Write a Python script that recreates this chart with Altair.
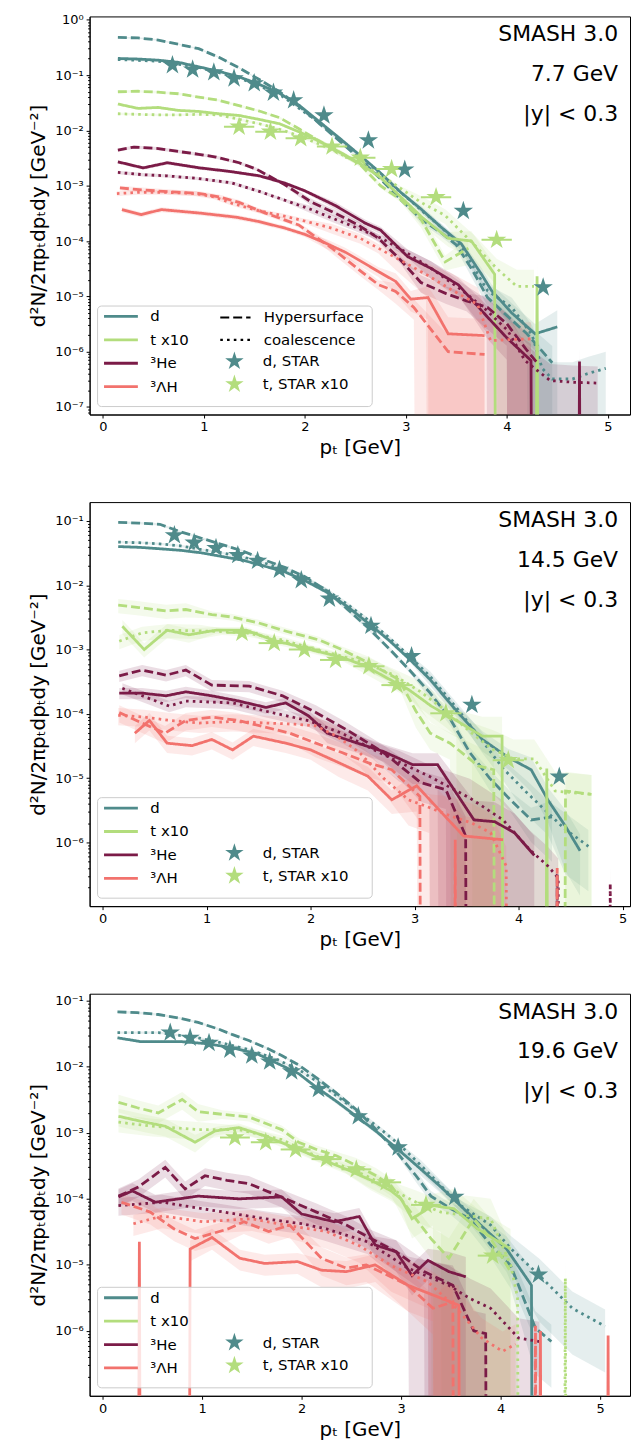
import altair as alt
import pandas as pd

# ---------------- data: (pT [GeV], dN) ; value 0 = curve dropped to zero ----------------
# ---- 7.7 GeV ----
P77_D_SOLID = [(0.15,2.0e-1),(0.35,1.95e-1),(0.55,1.86e-1),(0.75,1.70e-1),(0.95,1.41e-1),(1.15,1.17e-1),(1.35,9.3e-2),(1.55,6.8e-2),(1.75,4.7e-2),(1.95,2.8e-2),(2.15,1.41e-2),(2.35,7.1e-3),(2.55,3.5e-3),(2.75,1.7e-3),(2.95,7.6e-4),(3.15,3.8e-4),(3.35,1.78e-4),(3.55,8.9e-5),(3.75,2.5e-5),(3.85,1.26e-5),(4.05,5.0e-6),(4.28,2.1e-6),(4.5,2.8e-6)]
P77_D_DASH = [(0.15,4.8e-1),(0.35,4.7e-1),(0.55,4.3e-1),(0.75,3.6e-1),(0.95,3.0e-1),(1.15,2.1e-1),(1.35,1.35e-1),(1.55,8.3e-2),(1.75,5.0e-2),(1.95,2.7e-2),(2.15,1.3e-2),(2.35,6.3e-3),(2.55,3.0e-3),(2.75,1.32e-3),(2.95,5.6e-4),(3.15,2.5e-4),(3.35,1.41e-4),(3.5,8.5e-5),(3.65,3.2e-5),(3.81,9.5e-6),(4.0,4.5e-6),(4.2,2.1e-6),(4.45,6.3e-7)]
P77_D_DOT = [(0.15,1.91e-1),(0.55,1.78e-1),(0.95,1.38e-1),(1.35,8.9e-2),(1.75,4.5e-2),(2.15,1.35e-2),(2.55,3.4e-3),(2.95,7.6e-4),(3.35,1.78e-4),(3.55,7.9e-5),(3.81,1.26e-5),(4.05,6.3e-6),(4.25,2.0e-6),(4.35,5.0e-7),(4.45,3.2e-7),(4.65,3.2e-7),(4.8,4.0e-7),(4.98,5.0e-7)]
P77_T_SOLID = [(0.15,3.0e-2),(0.35,2.5e-2),(0.55,2.6e-2),(0.75,2.3e-2),(0.95,2.2e-2),(1.15,2.0e-2),(1.35,1.86e-2),(1.55,1.58e-2),(1.75,1.32e-2),(1.95,9.3e-3),(2.15,6.3e-3),(2.35,4.0e-3),(2.55,2.5e-3),(2.75,1.41e-3),(2.95,6.3e-4),(3.15,2.8e-4),(3.42,1.12e-4),(3.65,1.0e-4),(3.88,2.5e-5),(4.08,0),(4.3,2.3e-5),(4.5,0)]
P77_T_DASH = [(0.15,5.0e-2),(0.35,5.1e-2),(0.55,4.9e-2),(0.75,4.6e-2),(0.95,4.0e-2),(1.15,3.5e-2),(1.35,2.8e-2),(1.55,2.24e-2),(1.75,1.7e-2),(1.95,1.05e-2),(2.15,6.3e-3),(2.35,4.0e-3),(2.55,2.4e-3),(2.75,1.0e-3),(2.95,5.6e-4),(3.15,2.5e-4),(3.39,4.2e-5),(3.62,7.4e-5)]
P77_T_DOT = [(0.15,2.0e-2),(0.35,1.95e-2),(0.55,1.91e-2),(0.75,1.91e-2),(0.95,1.95e-2),(1.15,1.91e-2),(1.35,1.58e-2),(1.55,1.32e-2),(1.75,1.05e-2),(1.95,7.9e-3),(2.15,5.6e-3),(2.35,3.8e-3),(2.55,2.5e-3),(2.75,1.58e-3),(2.95,8.9e-4),(3.15,5.0e-4),(3.39,2.9e-4),(3.68,8.5e-5),(3.9,3.2e-5),(4.1,1.51e-5),(4.27,1.51e-5)]
P77_HE_SOLID = [(0.15,2.7e-3),(0.4,2.1e-3),(0.64,2.6e-3),(0.96,2.1e-3),(1.25,1.82e-3),(1.55,1.51e-3),(1.8,1.12e-3),(2.0,8.1e-4),(2.3,4.4e-4),(2.6,2.1e-4),(2.75,1.58e-4),(3.02,5.2e-5),(3.25,3.2e-5),(3.52,1.62e-5),(3.81,4.2e-6),(4.0,1.78e-6),(4.24,6.9e-7),(4.44,0),(4.52,0),(4.72,6.6e-7),(4.92,0)]
P77_HE_DASH = [(0.15,4.4e-3),(0.31,5.0e-3),(0.55,4.7e-3),(0.73,4.2e-3),(0.95,3.7e-3),(1.12,3.3e-3),(1.35,2.6e-3),(1.52,2.0e-3),(1.8,1.05e-3),(2.07,5.0e-4),(2.3,3.2e-4),(2.53,1.95e-4),(2.73,1.12e-4),(2.95,4.5e-5),(3.15,1.78e-5),(3.4,1.12e-5),(3.6,8.3e-6),(3.81,6.3e-6),(4.0,3.2e-6),(4.2,1.05e-6),(4.3,6.3e-7)]
P77_HE_DOT = [(0.15,1.74e-3),(0.4,1.58e-3),(0.63,1.51e-3),(0.95,1.35e-3),(1.28,1.12e-3),(1.55,7.9e-4),(1.81,5.4e-4),(2.05,3.8e-4),(2.27,2.6e-4),(2.5,1.78e-4),(2.76,1.12e-4),(3.0,6.3e-5),(3.25,3.2e-5),(3.55,1.32e-5),(3.8,5.6e-6),(4.01,2.4e-6),(4.18,6.9e-7),(4.3,4.6e-7),(4.43,3.0e-7),(4.65,2.8e-7),(4.9,2.7e-7)]
P77_LH_SOLID = [(0.19,3.7e-4),(0.38,3.0e-4),(0.58,3.7e-4),(0.96,3.2e-4),(1.32,2.7e-4),(1.55,2.24e-4),(1.81,1.7e-4),(2.0,1.32e-4),(2.21,9.1e-5),(2.4,6.3e-5),(2.53,4.6e-5),(2.73,2.8e-5),(2.9,1.86e-5),(3.05,8.9e-6),(3.22,9.5e-6),(3.42,2.1e-6),(3.78,1.95e-6)]
P77_LH_DASH = [(0.17,9.1e-4),(0.36,8.5e-4),(0.6,7.9e-4),(0.96,7.2e-4),(1.15,6.3e-4),(1.35,5.0e-4),(1.61,3.2e-4),(1.94,1.95e-4),(2.27,7.4e-5),(2.56,2.8e-5),(2.73,1.62e-5),(2.9,1.23e-5),(3.08,6.3e-6),(3.42,1.0e-6),(3.78,8.9e-7)]
P77_LH_DOT = [(0.14,7.2e-4),(0.35,7.6e-4),(0.63,7.6e-4),(0.92,7.2e-4),(1.1,6.3e-4),(1.28,4.8e-4),(1.55,3.5e-4),(1.77,2.9e-4),(2.0,2.3e-4),(2.27,1.7e-4),(2.55,1.12e-4),(2.73,7.4e-5),(2.9,5.0e-5),(3.2,2.5e-5),(3.45,1.32e-5),(3.71,7.2e-6),(3.84,1.58e-6),(4.05,1.66e-6),(4.24,1.7e-6)]
STAR77_D = [(0.69,0.151),(0.89,0.126),(1.10,0.112),(1.30,0.087),(1.50,0.071),(1.69,0.048),(1.89,0.035),(2.19,0.0186),(2.63,6.6e-3),(2.99,1.95e-3),(3.57,3.5e-4),(4.36,1.45e-5)]
STAR77_T = [(1.35,1.17e-2,0.15),(1.66,9.5e-3,0.15),(1.96,7.2e-3,0.15),(2.27,5.1e-3,0.15),(2.55,3.2e-3,0.15),(2.86,2.0e-3,0.15),(3.30,6.2e-4,0.15),(3.90,1.05e-4,0.15)]
# relative band half-width, valid up to the given pT
ERR77_D = [(2.0,0.03),(3.0,0.06),(3.6,0.15),(4.0,0.3),(4.3,0.5),(9,1.0)]
ERR77_T = [(2.0,0.05),(3.0,0.1),(3.5,0.3),(3.9,0.5),(9,1.0)]
ERR77_HE = [(2.0,0.07),(3.0,0.15),(3.6,0.35),(4.0,0.6),(9,1.0)]
ERR77_LH = [(2.0,0.1),(2.8,0.2),(3.1,0.4),(3.3,0.6),(9,1.0)]

# ---- 14.5 GeV ----
P145_D_SOLID = [(0.15,4.0e-2),(0.35,3.9e-2),(0.55,3.7e-2),(0.75,3.5e-2),(0.95,3.2e-2),(1.15,2.8e-2),(1.35,2.45e-2),(1.55,2.0e-2),(1.75,1.62e-2),(1.95,1.17e-2),(2.15,7.9e-3),(2.35,4.7e-3),(2.55,2.6e-3),(2.75,1.41e-3),(2.95,7.1e-4),(3.15,3.4e-4),(3.4,1.12e-4),(3.65,4.0e-5),(3.9,2.1e-5),(4.12,1.35e-5),(4.28,4.6e-6),(4.45,1.78e-6),(4.59,7.4e-7)]
P145_D_DASH = [(0.15,9.5e-2),(0.35,9.3e-2),(0.55,8.9e-2),(0.75,6.8e-2),(0.95,5.4e-2),(1.15,4.3e-2),(1.35,3.4e-2),(1.55,2.5e-2),(1.75,1.9e-2),(1.95,1.35e-2),(2.15,8.3e-3),(2.35,4.3e-3),(2.55,2.2e-3),(2.75,1.05e-3),(2.95,4.8e-4),(3.15,2.1e-4),(3.35,7.9e-5),(3.53,2.5e-5),(3.72,1.0e-5),(3.92,4.6e-6),(4.12,2.24e-6),(4.32,2.5e-6)]
P145_D_DOT = [(0.15,4.7e-2),(0.35,4.6e-2),(0.55,4.4e-2),(0.75,4.1e-2),(0.95,3.6e-2),(1.15,3.2e-2),(1.35,2.75e-2),(1.55,2.24e-2),(1.75,1.74e-2),(1.95,1.26e-2),(2.15,8.5e-3),(2.35,5.1e-3),(2.55,2.9e-3),(2.75,1.55e-3),(2.95,7.9e-4),(3.15,3.8e-4),(3.4,1.26e-4),(3.65,3.8e-5),(3.85,1.41e-5),(4.08,5.9e-6),(4.28,2.9e-6),(4.45,1.58e-6),(4.67,8.7e-7)]
P145_T_SOLID = [(0.19,2.3e-3),(0.4,1.0e-3),(0.62,2.0e-3),(0.83,1.7e-3),(1.09,2.0e-3),(1.38,2.0e-3),(1.67,1.35e-3),(1.89,1.12e-3),(2.05,9.5e-4),(2.3,7.6e-4),(2.53,5.5e-4),(2.75,3.5e-4),(2.94,2.4e-4),(3.16,1.32e-4),(3.4,7.9e-5),(3.65,4.5e-5),(3.84,4.5e-5),(4.04,0),(4.1,0),(4.27,1.41e-5),(4.47,0)]
P145_T_DASH = [(0.15,4.9e-3),(0.35,4.5e-3),(0.61,4.0e-3),(0.8,4.2e-3),(1.05,3.5e-3),(1.25,3.2e-3),(1.5,2.6e-3),(1.73,2.0e-3),(2.08,1.41e-3),(2.3,1.0e-3),(2.55,6.3e-4),(2.85,3.4e-4),(3.01,1.12e-4),(3.15,5.0e-5),(3.34,3.5e-5),(3.61,1.55e-5),(3.76,1.35e-5),(3.96,0),(4.25,0),(4.45,6.3e-6),(4.7,5.6e-6)]
P145_T_DOT = [(0.16,1.35e-3),(0.38,1.82e-3),(0.64,2.0e-3),(0.93,1.95e-3),(1.15,1.91e-3),(1.38,1.82e-3),(1.73,1.41e-3),(2.05,1.0e-3),(2.3,7.9e-4),(2.55,6.0e-4),(2.8,4.0e-4),(3.05,2.24e-4),(3.3,1.12e-4),(3.55,5.0e-5),(3.75,2.8e-5),(3.95,2.0e-5),(4.15,2.0e-5),(4.35,6.3e-6),(4.7,5.6e-6)]
P145_HE_SOLID = [(0.16,2.1e-4),(0.38,2.1e-4),(0.61,1.91e-4),(0.8,2.2e-4),(1.05,1.91e-4),(1.31,1.58e-4),(1.57,1.26e-4),(1.76,1.48e-4),(1.98,9.3e-5),(2.16,5.0e-5),(2.45,3.5e-5),(2.7,2.6e-5),(2.98,1.62e-5),(3.22,1.62e-5),(3.57,2.24e-6),(3.77,2.1e-6),(3.96,1.41e-6),(4.15,6.3e-7)]
P145_HE_DASH = [(0.16,3.9e-4),(0.38,4.8e-4),(0.61,4.0e-4),(0.8,4.8e-4),(1.05,2.8e-4),(1.41,2.7e-4),(1.73,1.91e-4),(2.05,1.05e-4),(2.35,5.6e-5),(2.7,2.5e-5),(3.06,8.5e-6),(3.3,6.6e-6),(3.49,1.26e-6),(3.69,0),(4.17,0),(4.37,3.2e-7),(4.57,0)]
P145_HE_DOT = [(0.19,2.5e-4),(0.38,1.91e-4),(0.64,1.32e-4),(0.8,1.58e-4),(1.25,1.48e-4),(1.57,1.1e-4),(1.98,7.8e-5),(2.3,5.0e-5),(2.6,2.8e-5),(2.85,1.78e-5),(3.14,1.07e-5),(3.53,4.9e-6),(3.85,2.24e-6),(4.1,7.9e-7),(4.28,4.3e-7),(4.38,2.8e-7),(4.58,0),(4.68,0),(4.88,2.3e-7),(5.05,0)]
P145_LH_SOLID = [(0.31,5.0e-5),(0.45,7.9e-5),(0.62,3.5e-5),(0.86,3.2e-5),(1.05,4.0e-5),(1.25,2.75e-5),(1.45,4.5e-5),(1.76,3.5e-5),(2.0,2.75e-5),(2.27,1.74e-5),(2.55,1.07e-5),(2.78,4.6e-6),(3.02,7.6e-6),(3.26,2.9e-6),(3.47,1.26e-6),(3.85,1.1e-6)]
P145_LH_DASH = [(0.16,1.05e-4),(0.38,7.2e-5),(0.6,5.0e-5),(0.8,7.9e-5),(1.05,8.9e-5),(1.3,7.9e-5),(1.55,6.3e-5),(1.8,5.0e-5),(2.05,3.5e-5),(2.3,2.5e-5),(2.55,1.74e-5),(2.78,1.35e-5),(3.05,5.2e-6),(3.22,0),(3.39,1.1e-6),(3.55,0),(4.17,0),(4.37,4.0e-7),(4.55,0)]
P145_LH_DOT = [(0.15,9.5e-5),(0.4,8.9e-5),(0.65,7.9e-5),(0.93,7.2e-5),(1.25,7.6e-5),(1.57,7.2e-5),(1.85,6.9e-5),(2.05,6.5e-5),(2.25,4.5e-5),(2.47,2.5e-5),(2.7,1.0e-5),(2.94,4.6e-6),(3.14,3.5e-6),(3.34,2.6e-6),(3.55,2.0e-6),(3.73,1.41e-6),(3.88,4.3e-7),(4.08,0)]
STAR145_D = [(0.69,6.0e-2),(0.88,4.6e-2),(1.09,3.8e-2),(1.30,2.95e-2),(1.49,2.4e-2),(1.70,1.74e-2),(1.91,1.2e-2),(2.18,6.2e-3),(2.58,2.34e-3),(2.97,7.9e-4),(3.55,1.38e-4),(4.39,1.05e-5)]
STAR145_T = [(1.34,1.82e-3,0.15),(1.65,1.26e-3,0.15),(1.94,1.0e-3,0.15),(2.24,6.9e-4,0.15),(2.56,5.5e-4,0.15),(2.83,2.8e-4,0.15),(3.3,1.02e-4,0.15),(3.9,1.9e-5,0.15)]
ERR145_D = [(2.0,0.04),(3.0,0.08),(3.6,0.2),(4.0,0.35),(4.3,0.55),(9,0.8)]
ERR145_T = [(1.0,0.25),(2.5,0.12),(3.0,0.25),(3.6,0.45),(9,1.0)]
ERR145_HE = [(2.0,0.2),(2.8,0.3),(3.4,0.5),(9,1.0)]
ERR145_LH = [(2.0,0.3),(2.8,0.4),(3.2,0.6),(9,1.0)]

# ---- 19.6 GeV ----
P196_D_SOLID = [(0.15,2.75e-2),(0.39,2.4e-2),(0.8,2.4e-2),(1.05,2.24e-2),(1.3,1.95e-2),(1.55,1.58e-2),(1.8,1.05e-2),(1.97,7.9e-3),(2.14,5.0e-3),(2.35,3.0e-3),(2.55,1.78e-3),(2.75,1.05e-3),(2.97,5.6e-4),(3.2,2.8e-4),(3.4,1.51e-4),(3.56,8.9e-5),(3.8,4.0e-5),(4.06,1.74e-5),(4.31,4.9e-6),(4.5,0)]
P196_D_DASH = [(0.15,6.8e-2),(0.35,6.6e-2),(0.56,6.2e-2),(0.76,5.5e-2),(0.96,4.7e-2),(1.15,3.8e-2),(1.3,3.1e-2),(1.47,2.5e-2),(1.64,1.95e-2),(1.8,1.48e-2),(1.97,1.07e-2),(2.15,6.8e-3),(2.35,4.0e-3),(2.55,2.24e-3),(2.75,1.12e-3),(2.97,4.8e-4),(3.15,2.24e-4),(3.3,1.1e-4),(3.5,7.1e-5),(3.69,5.0e-5),(3.9,2.0e-5),(4.1,9.8e-6),(4.35,1.1e-6),(4.51,6.9e-7)]
P196_D_DOT = [(0.15,3.3e-2),(0.56,3.3e-2),(0.96,2.75e-2),(1.2,2.3e-2),(1.47,1.82e-2),(1.72,1.35e-2),(1.97,9.1e-3),(2.2,5.4e-3),(2.4,3.2e-3),(2.6,1.91e-3),(2.8,1.12e-3),(3.0,6.3e-4),(3.2,3.2e-4),(3.4,1.58e-4),(3.6,7.9e-5),(3.9,4.0e-5),(4.1,1.78e-5),(4.39,6.9e-6),(4.72,2.2e-6),(5.05,1.17e-6)]
P196_T_SOLID = [(0.16,1.78e-3),(0.4,1.48e-3),(0.63,1.26e-3),(0.93,7.2e-4),(1.13,1.07e-3),(1.37,1.2e-3),(1.64,8.9e-4),(1.97,5.6e-4),(2.2,4.0e-4),(2.45,2.8e-4),(2.7,1.91e-4),(2.9,1.32e-4),(3.0,1.0e-4),(3.11,5.0e-5),(3.32,7.9e-5),(3.53,7.1e-5),(3.77,3.5e-5),(4.1,1.74e-5)]
P196_T_DASH = [(0.16,2.9e-3),(0.35,2.4e-3),(0.56,2.0e-3),(0.8,3.2e-3),(0.96,2.1e-3),(1.2,1.91e-3),(1.47,1.74e-3),(1.8,1.12e-3),(1.97,7.2e-4),(2.15,5.6e-4),(2.35,4.5e-4),(2.55,3.2e-4),(2.75,2.24e-4),(2.9,1.58e-4),(3.07,7.1e-5),(3.3,2.5e-5),(3.48,1.26e-5),(3.73,5.0e-5),(3.9,2.5e-5),(4.1,7.9e-6)]
P196_T_DOT = [(0.16,1.45e-3),(0.5,1.26e-3),(0.96,1.12e-3),(1.37,1.12e-3),(1.8,7.9e-4),(2.14,4.5e-4),(2.4,3.2e-4),(2.65,2.24e-4),(2.9,1.41e-4),(3.15,8.9e-5),(3.4,6.3e-5),(3.65,5.6e-5),(3.9,5.0e-5),(4.1,1.0e-5),(4.17,3.2e-6),(4.37,0),(4.45,0),(4.65,6.3e-6),(4.85,0)]
P196_HE_SOLID = [(0.16,1.07e-4),(0.3,1.32e-4),(0.53,8.9e-5),(0.96,1.1e-4),(1.37,1.0e-4),(1.8,1.07e-4),(2.0,5.9e-5),(2.33,4.5e-5),(2.58,5.4e-5),(2.74,2.0e-5),(2.95,1.58e-5),(3.11,6.9e-6),(3.27,1.17e-5),(3.48,7.9e-6),(3.65,6.6e-6)]
P196_HE_DASH = [(0.16,1.1e-4),(0.36,1.51e-4),(0.63,3.0e-4),(0.83,1.41e-4),(1.03,2.24e-4),(1.25,1.91e-4),(1.47,1.7e-4),(1.84,1.0e-4),(2.15,6.3e-5),(2.45,4.0e-5),(2.7,2.5e-5),(2.95,1.58e-5),(3.23,7.9e-6),(3.52,4.9e-6),(3.73,1.0e-6),(3.85,9.1e-7),(4.05,0)]
P196_HE_DOT = [(0.16,7.9e-5),(0.6,8.9e-5),(1.0,7.1e-5),(1.22,6.3e-5),(1.63,5.0e-5),(2.0,4.2e-5),(2.25,3.5e-5),(2.66,2.24e-5),(3.07,8.9e-6),(3.48,4.9e-6),(3.69,3.1e-6),(3.9,2.2e-6),(4.18,7.8e-7),(4.39,6.9e-7)]
P196_LH_SOLID = [(0.17,0),(0.37,2.24e-5),(0.57,0),(0.7,0),(0.88,1.74e-5),(1.1,2.6e-5),(1.38,1.26e-5),(1.63,1.05e-5),(1.96,1.12e-5),(2.2,8.3e-6),(2.45,7.9e-6),(2.74,1.0e-5),(3.07,4.9e-6),(3.32,3.5e-6),(3.58,2.45e-6),(3.78,0),(4.2,0),(4.4,1.0e-6),(4.6,0),(4.9,0),(5.08,8.5e-7),(5.25,0)]
P196_LH_DASH = [(0.19,8.9e-5),(0.48,6.3e-5),(0.72,3.5e-5),(0.93,2.5e-5),(1.26,3.5e-5),(1.42,4.5e-5),(1.67,3.2e-5),(1.88,4.0e-5),(2.2,1.26e-5),(2.45,8.9e-6),(2.65,1.0e-5),(3.07,4.9e-6),(3.32,2.2e-6),(3.52,2.75e-6),(3.72,0),(4.15,0),(4.35,1.2e-6),(4.55,0)]
P196_LH_DOT = [(0.31,4.2e-5),(0.6,5.5e-5),(1.01,4.5e-5),(1.5,5.0e-5),(1.84,4.0e-5),(2.25,3.2e-5),(2.58,1.95e-5),(2.9,9.8e-6),(3.27,5.5e-6),(3.56,2.2e-6),(3.81,7.8e-7),(4.02,4.9e-7),(4.15,6.3e-7)]
STAR196_D = [(0.68,3.3e-2),(0.88,2.75e-2),(1.07,2.3e-2),(1.28,1.82e-2),(1.50,1.48e-2),(1.68,1.2e-2),(1.90,8.5e-3),(2.17,4.6e-3),(2.57,1.78e-3),(2.97,6.0e-4),(3.54,1.07e-4),(4.38,7.1e-6)]
STAR196_T = [(1.33,8.5e-4,0.15),(1.64,7.2e-4,0.15),(1.94,5.6e-4,0.15),(2.25,4.0e-4,0.15),(2.55,2.8e-4,0.15),(2.85,1.78e-4,0.15),(3.25,8.1e-5,0.15),(3.92,1.38e-5,0.15)]
ERR196_D = [(2.0,0.04),(3.0,0.08),(3.6,0.2),(4.0,0.35),(4.3,0.55),(9,0.8)]
ERR196_T = [(1.0,0.3),(2.5,0.15),(3.0,0.3),(3.4,0.5),(9,1.0)]
ERR196_HE = [(2.0,0.3),(2.8,0.35),(3.4,0.5),(9,1.0)]
ERR196_LH = [(2.0,0.35),(2.8,0.45),(3.4,0.6),(9,1.0)]

# ---------------- labels & style ----------------
SPECIES = ["d", "t x10", "³He", "³ΛH"]
COLORS = ["#4f8b8b", "#b3dd7d", "#7b1b47", "#f2726d"]
STYLES = ["solid", "Hypersurface", "coalescence"]
DASHES = [[1, 0], [9, 4], [2.6, 4.2]]
STAR_LABELS = ["d, STAR", "t, STAR x10"]
ENERGIES = ["7.7 GeV", "14.5 GeV", "19.6 GeV"]
STAR_PATH = ("M0,-1L0.2245,-0.309L0.9511,-0.309L0.3633,0.118L0.5878,0.809L0,0.382"
             "L-0.5878,0.809L-0.3633,0.118L-0.9511,-0.309L-0.2245,-0.309Z")
HANDLE_PATH = "M-1.7,0L1.7,0"
FONT = "DejaVu Sans"
TINY = 1e-100
W = 543

LOGV = "log(datum.value)/LN10"
DEC = f"abs({LOGV} - round({LOGV})) < 0.001"
SUP = "['⁰','¹','²','³','⁴','⁵','⁶','⁷','⁸','⁹']"
LABEL_EXPR = f"{DEC} ? '10' + (round({LOGV}) < 0 ? '⁻' : '') + {SUP}[abs(round({LOGV}))] : ''"


def err_for(table, pt):
    for limit, e in table:
        if pt <= limit:
            return e
    return table[-1][1]


def log_ticks(lo, hi):
    vals = []
    for e in range(-9, 2):
        for m in range(1, 10):
            v = m * 10.0 ** e
            if lo <= v <= hi:
                vals.append(v)
    return vals


def panel(series, errs, stars_d, stars_t, energy, xdom, ydom, h):
    rows = []
    for sp, style, pts in series:
        tab = errs[SPECIES.index(sp)]
        for pt, v in pts:
            e = err_for(tab, pt)
            if v > 0:
                val, hi = v, v * (1 + e)
                lo = v * (1 - e) if e < 1 else TINY
            else:
                val = lo = hi = TINY
            rows.append({"pt": pt, "v": val, "lo": lo, "hi": hi, "species": sp,
                         "style": style, "series": sp + "/" + style})
    df = pd.DataFrame(rows)
    sd = pd.DataFrame([{"pt": p, "v": v, "label": STAR_LABELS[0]} for p, v in stars_d] +
                      [{"pt": p, "v": v, "label": STAR_LABELS[1]} for p, v, _ in stars_t])
    st = pd.DataFrame([{"x0": p - xe, "x1": p + xe, "v": v} for p, v, xe in stars_t])

    xs = alt.Scale(domain=xdom, nice=False, zero=False)
    ys = alt.Scale(type="log", domain=ydom, nice=False)
    xaxis = alt.Axis(values=[0, 1, 2, 3, 4, 5], format="d", title="pₜ [GeV]",
                     tickSize=3.5, labelPadding=3, titlePadding=4)
    yaxis = alt.Axis(values=log_ticks(*ydom), labelExpr=LABEL_EXPR,
                     tickSize={"condition": {"test": DEC, "value": 3.5}, "value": 2},
                     title="d²N/2πpₜdpₜdy [GeV⁻²]", labelPadding=3, titlePadding=6)
    cscale = alt.Scale(domain=SPECIES, range=COLORS)
    ftop = h - 109

    # first layer carries the axes; the other layers leave theirs implicit so they merge
    band = alt.Chart(df).mark_area(opacity=0.15, clip=True, interpolate="linear").encode(
        x=alt.X("pt:Q", scale=xs, axis=xaxis),
        y=alt.Y("lo:Q", scale=ys, axis=yaxis), y2=alt.Y2("hi"),
        color=alt.Color("species:N", scale=cscale, legend=None),
        detail="series:N")
    lines = alt.Chart(df).mark_line(strokeWidth=2.8, clip=True).encode(
        x=alt.X("pt:Q", scale=xs),
        y=alt.Y("v:Q", scale=ys),
        color=alt.Color("species:N", scale=cscale, legend=alt.Legend(
            title=None, orient="none", legendX=20, legendY=ftop - 1,
            symbolType=HANDLE_PATH, symbolSize=400, symbolStrokeWidth=2.8,
            labelOffset=18, rowPadding=3.5)),
        strokeDash=alt.StrokeDash("style:N", scale=alt.Scale(domain=STYLES, range=DASHES),
                                  legend=alt.Legend(
            title=None, orient="none", legendX=136, legendY=ftop + 1,
            values=["Hypersurface", "coalescence"], symbolType=HANDLE_PATH,
            symbolSize=320, symbolStrokeWidth=2.2, symbolStrokeColor="black",
            labelOffset=18, rowPadding=3.5)),
        detail="series:N", order="pt:Q")
    xerr = alt.Chart(st).mark_rule(color=COLORS[1], strokeWidth=2, clip=True).encode(
        x=alt.X("x0:Q", scale=xs), x2=alt.X2("x1"),
        y=alt.Y("v:Q", scale=ys))
    stars = alt.Chart(sd).mark_point(shape=STAR_PATH, filled=True, size=420,
                                     opacity=1, clip=True).encode(
        x=alt.X("pt:Q", scale=xs),
        y=alt.Y("v:Q", scale=ys),
        color=alt.Color("label:N", scale=alt.Scale(domain=STAR_LABELS, range=COLORS[:2]),
                        legend=alt.Legend(title=None, orient="none", legendX=135,
                                          legendY=ftop + 45, symbolType=STAR_PATH,
                                          symbolSize=380, labelOffset=18, rowPadding=4)))
    dummy = pd.DataFrame({"k": [0]})
    frame = alt.Chart(dummy).mark_rect(fill="white", fillOpacity=0.8, stroke="#cccccc",
                                       strokeWidth=1, cornerRadius=4).encode(
        x=alt.value(8), x2=alt.value(284), y=alt.value(ftop), y2=alt.value(h - 8))
    text = alt.Chart(dummy).mark_text(text=["SMASH 3.0", energy, "|y| < 0.3"], align="right",
                                      baseline="alphabetic", fontSize=22, lineHeight=40,
                                      font=FONT, color="black").encode(
        x=alt.value(W - 12), y=alt.value(25))
    return alt.layer(band, lines, xerr, stars, frame, text).resolve_scale(
        color="independent").properties(width=W, height=h)


S77 = [("d", "solid", P77_D_SOLID), ("d", "Hypersurface", P77_D_DASH), ("d", "coalescence", P77_D_DOT),
       ("t x10", "solid", P77_T_SOLID), ("t x10", "Hypersurface", P77_T_DASH), ("t x10", "coalescence", P77_T_DOT),
       ("³He", "solid", P77_HE_SOLID), ("³He", "Hypersurface", P77_HE_DASH), ("³He", "coalescence", P77_HE_DOT),
       ("³ΛH", "solid", P77_LH_SOLID), ("³ΛH", "Hypersurface", P77_LH_DASH), ("³ΛH", "coalescence", P77_LH_DOT)]
S145 = [("d", "solid", P145_D_SOLID), ("d", "Hypersurface", P145_D_DASH), ("d", "coalescence", P145_D_DOT),
        ("t x10", "solid", P145_T_SOLID), ("t x10", "Hypersurface", P145_T_DASH), ("t x10", "coalescence", P145_T_DOT),
        ("³He", "solid", P145_HE_SOLID), ("³He", "Hypersurface", P145_HE_DASH), ("³He", "coalescence", P145_HE_DOT),
        ("³ΛH", "solid", P145_LH_SOLID), ("³ΛH", "Hypersurface", P145_LH_DASH), ("³ΛH", "coalescence", P145_LH_DOT)]
S196 = [("d", "solid", P196_D_SOLID), ("d", "Hypersurface", P196_D_DASH), ("d", "coalescence", P196_D_DOT),
        ("t x10", "solid", P196_T_SOLID), ("t x10", "Hypersurface", P196_T_DASH), ("t x10", "coalescence", P196_T_DOT),
        ("³He", "solid", P196_HE_SOLID), ("³He", "Hypersurface", P196_HE_DASH), ("³He", "coalescence", P196_HE_DOT),
        ("³ΛH", "solid", P196_LH_SOLID), ("³ΛH", "Hypersurface", P196_LH_DASH), ("³ΛH", "coalescence", P196_LH_DOT)]

p1 = panel(S77, [ERR77_D, ERR77_T, ERR77_HE, ERR77_LH], STAR77_D, STAR77_T, ENERGIES[0],
           [-0.13, 5.22], [7.3e-8, 1.15], 400)
p2 = panel(S145, [ERR145_D, ERR145_T, ERR145_HE, ERR145_LH], STAR145_D, STAR145_T, ENERGIES[1],
           [-0.125, 5.07], [1.02e-7, 0.197], 406)
p3 = panel(S196, [ERR196_D, ERR196_T, ERR196_HE, ERR196_LH], STAR196_D, STAR196_T, ENERGIES[2],
           [-0.13, 5.3], [1.04e-7, 0.128], 404)

chart = alt.vconcat(p1, p2, p3, spacing=43).properties(
    padding={"left": 20, "top": 1, "right": 0, "bottom": 5}
).configure_view(stroke="black", strokeWidth=1).configure_axis(
    domainColor="black", tickColor="black", labelColor="black", titleColor="black",
    labelFont=FONT, titleFont=FONT, labelFontSize=13, titleFontSize=20,
    titleFontWeight="normal", grid=False, domainWidth=1, tickWidth=1
).configure_legend(labelFont=FONT, labelFontSize=15, labelColor="black", padding=0,
                   labelLimit=0)

chart.save("out.html", embed_options={"renderer": "svg", "actions": False})
